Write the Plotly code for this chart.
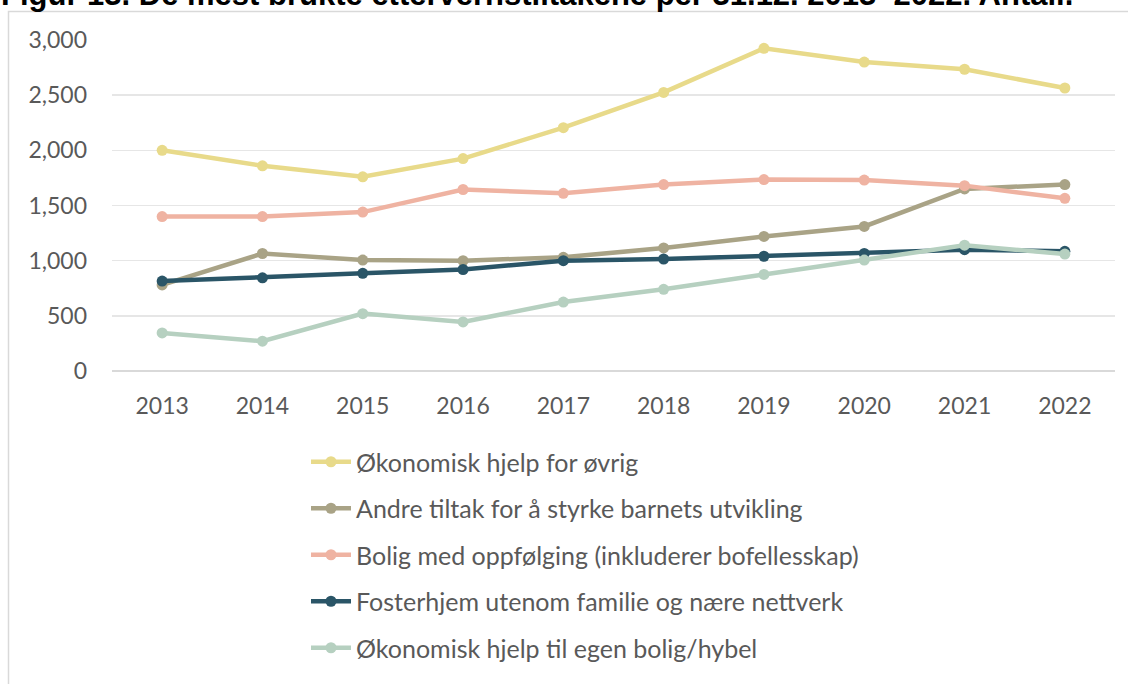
import plotly.graph_objects as go

years = ["2013", "2014", "2015", "2016", "2017", "2018", "2019", "2020", "2021", "2022"]

okonomisk_ovrig = [2000, 1860, 1760, 1925, 2205, 2525, 2925, 2800, 2735, 2565]
andre_tiltak = [780, 1065, 1005, 1000, 1030, 1115, 1220, 1310, 1650, 1690]
bolig_oppfolging = [1400, 1400, 1440, 1645, 1610, 1690, 1735, 1730, 1680, 1565]
fosterhjem = [815, 845, 885, 920, 1000, 1015, 1040, 1065, 1100, 1085]
okonomisk_bolig = [345, 270, 520, 445, 625, 740, 875, 1005, 1140, 1060]

series = [
    ("Økonomisk hjelp for øvrig", okonomisk_ovrig, "#E8DA8A"),
    ("Andre tiltak for å styrke barnets utvikling", andre_tiltak, "#A9A386"),
    ("Bolig med oppfølging (inkluderer bofellesskap)", bolig_oppfolging, "#EFB3A2"),
    ("Fosterhjem utenom familie og nære nettverk", fosterhjem, "#2A5567"),
    ("Økonomisk hjelp til egen bolig/hybel", okonomisk_bolig, "#B6D0C0"),
]

title_text = "Figur 13. De mest brukte ettervernstiltakene per 31.12. 2013–2022. Antall."

W, H = 1128, 684
L, R, T, B = 112, 13, 40, 313
PW, PH = W - L - R, H - T - B


def px_x(x):
    return (x - L) / PW


def px_y(y):
    return (H - B - y) / PH


fig = go.Figure()
for i, (name, vals, col) in enumerate(series):
    fig.add_trace(go.Scatter(
        x=years, y=vals, name=name, mode="lines+markers",
        line=dict(color=col, width=4.5),
        marker=dict(color=col, size=11),
        legendgroup=f"g{i}",
    ))

font_family = "Lato, 'Open Sans', sans-serif"
fig.update_layout(
    width=W, height=H,
    margin=dict(l=L, r=R, t=T, b=B, autoexpand=False),
    paper_bgcolor="white", plot_bgcolor="white",
    font=dict(family=font_family, color="#595959", size=23),
    showlegend=True, hovermode=False,
    legend=dict(
        xref="container", yref="container",
        x=306 / W, xanchor="left", y=1 - 439 / H, yanchor="top",
        font=dict(size=25, color="#595959", family=font_family),
        tracegroupgap=11, itemwidth=40, bgcolor="rgba(0,0,0,0)",
    ),
    xaxis=dict(
        type="category", range=[-0.5, len(years) - 0.5],
        showgrid=False, zeroline=False, automargin=False,
        showline=False, ticks="", ticklabelstandoff=19,
        tickfont=dict(size=23, color="#595959"),
    ),
    yaxis=dict(
        range=[0, 3000], tickvals=[0, 500, 1000, 1500, 2000, 2500, 3000],
        tickformat=",", showgrid=True, gridcolor="#E6E6E6", gridwidth=1.5,
        zeroline=True, zerolinecolor="#D9D9D9", zerolinewidth=1.5,
        showline=False, ticks="", ticklabelstandoff=24, automargin=False,
        tickfont=dict(size=23, color="#595959"),
    ),
    shapes=[dict(
        type="rect", xref="paper", yref="paper",
        x0=px_x(8.5), x1=px_x(1140),
        y0=px_y(700), y1=px_y(11.5),
        line=dict(color="#D9D9D9", width=1.5), fillcolor="rgba(0,0,0,0)",
        layer="below",
    )],
    annotations=[dict(
        text="<b>" + title_text + "</b>", xref="paper", yref="paper",
        x=px_x(-1), xanchor="left",
        y=px_y(14.5), yanchor="bottom", showarrow=False,
        font=dict(family="Liberation Sans, Arial, sans-serif", size=31, color="#000000"),
    )],
)

fig.write_html(
    "out.html",
    config={"displayModeBar": False, "staticPlot": True},
    post_script="document.body.style.margin='0px';document.body.style.overflow='hidden';",
)
